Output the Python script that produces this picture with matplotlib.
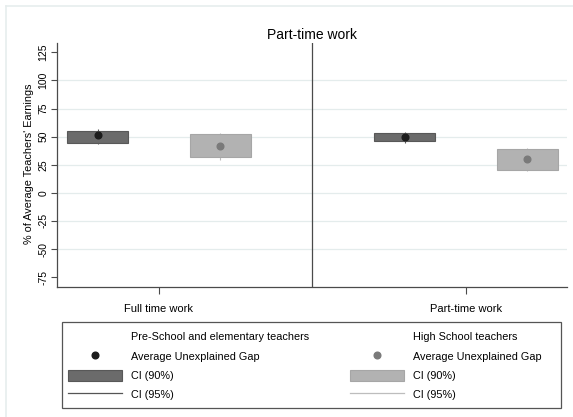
import numpy as np
import matplotlib.pyplot as plt
from matplotlib.lines import Line2D
from matplotlib.patches import Patch, Rectangle

plt.rcParams['font.family'] = ['Liberation Sans', 'DejaVu Sans']

groups = ["Full time work", "Part-time work"]

# Pre-School and elementary teachers
pre_gap = [51.0, 50.0]
pre_lo90 = [44.7, 46.0]
pre_hi90 = [55.4, 53.4]
pre_lo95 = [43.6, 44.7]
pre_hi95 = [57.0, 53.9]

# High School teachers
hs_gap = [42.0, 30.5]
hs_lo90 = [31.8, 20.7]
hs_hi90 = [52.2, 39.4]
hs_lo95 = [29.4, 19.0]
hs_hi95 = [53.6, 40.2]

yticks = [-75, -50, -25, 0, 25, 50, 75, 100, 125]

dark_box, dark_edge, dark_dot = '#6b6b6b', '#585858', '#1c1c1c'
light_box, light_edge, light_dot = '#b2b2b2', '#a6a6a6', '#7a7a7a'
grid_col = '#e4ecec'
axis_col = '#4a4a4a'

W, H = 573, 417
fig = plt.figure(figsize=(W / 100, H / 100), dpi=100)
ax = fig.add_axes([57 / W, 1 - 287 / H, 510 / W, 244 / H])

x = np.arange(len(groups))
off = 0.2
w = 0.2

# gridlines
for t in yticks[1:-1]:
    ax.axhline(t, color=grid_col, lw=0.9, zorder=0)

def draw_series(xs, gap, lo90, hi90, lo95, hi95, face, edge, dot, spike):
    lo90, hi90 = np.array(lo90), np.array(hi90)
    ax.vlines(xs, lo95, hi95, color=spike, lw=0.8, zorder=1)
    ax.bar(xs, hi90 - lo90, bottom=lo90, width=w, color=face,
           edgecolor=edge, linewidth=0.8, zorder=2)
    ax.plot(xs, gap, 'o', color=dot, markersize=4.8, zorder=3)

draw_series(x - off, pre_gap, pre_lo90, pre_hi90, pre_lo95, pre_hi95,
            dark_box, dark_edge, dark_dot, '#555555')
draw_series(x + off, hs_gap, hs_lo90, hs_hi90, hs_lo95, hs_hi95,
            light_box, light_edge, light_dot, '#bdbdbd')

ax.axvline(0.5, color=axis_col, lw=0.9, zorder=1)

ax.set_xlim(-0.332, 1.329)
ax.set_ylim(-83.8, 133.3)
ax.set_xticks(x)
ax.set_xticklabels(groups, fontsize=8)
ax.set_yticks(yticks)
ax.set_yticklabels([str(t) for t in yticks], fontsize=7.5, rotation=90, va='center')
ax.tick_params(axis='y', length=4, width=0.8, color=axis_col, pad=2)
ax.tick_params(axis='x', length=5, width=0.8, color=axis_col, pad=7)
for s in ['top', 'right']:
    ax.spines[s].set_visible(False)
for s in ['left', 'bottom']:
    ax.spines[s].set_color(axis_col)
    ax.spines[s].set_linewidth(0.9)

ax.set_ylabel("% of Average Teachers' Earnings", fontsize=7.8, va='center')
ax.yaxis.set_label_coords(-28 / 510, 0.505)
ax.set_title("Part-time work", fontsize=10, pad=3)

# legend: one column per teacher group
handles = [
    Line2D([], [], linestyle='none'),
    Line2D([], [], linestyle='none', marker='o', color=dark_dot, markersize=4.8),
    Patch(facecolor=dark_box, edgecolor=dark_edge, linewidth=0.8),
    Line2D([], [], color='#555555', lw=0.9),
    Line2D([], [], linestyle='none'),
    Line2D([], [], linestyle='none', marker='o', color=light_dot, markersize=4.8),
    Patch(facecolor=light_box, edgecolor=light_edge, linewidth=0.8),
    Line2D([], [], color='#bdbdbd', lw=0.9),
]
labels = ["Pre-School and elementary teachers", "Average Unexplained Gap",
          "CI (90%)", "CI (95%)",
          "High School teachers", "Average Unexplained Gap",
          "CI (90%)", "CI (95%)"]
fig.legend(handles, labels, ncol=2, loc='upper left',
           bbox_to_anchor=(68 / W, 1 - 331 / H),
           fontsize=7.8, handlelength=5.0,
           handleheight=1.25, handletextpad=0.8, labelspacing=0.72,
           borderpad=0.0, borderaxespad=0.0, columnspacing=3.8,
           frameon=False)
fig.add_artist(Rectangle((62 / W, 1 - 408 / H), 499 / W, 86 / H,
                         transform=fig.transFigure, fill=False,
                         edgecolor='#555555', linewidth=0.9))

# faint outer frame
fig.add_artist(Line2D([6 / W, 1], [1 - 6 / H] * 2, transform=fig.transFigure,
                      color='#e6eded', lw=1.2))
fig.add_artist(Line2D([6 / W] * 2, [0, 1 - 6 / H], transform=fig.transFigure,
                      color='#e6eded', lw=1.2))

fig.savefig('out.png', dpi=100)
